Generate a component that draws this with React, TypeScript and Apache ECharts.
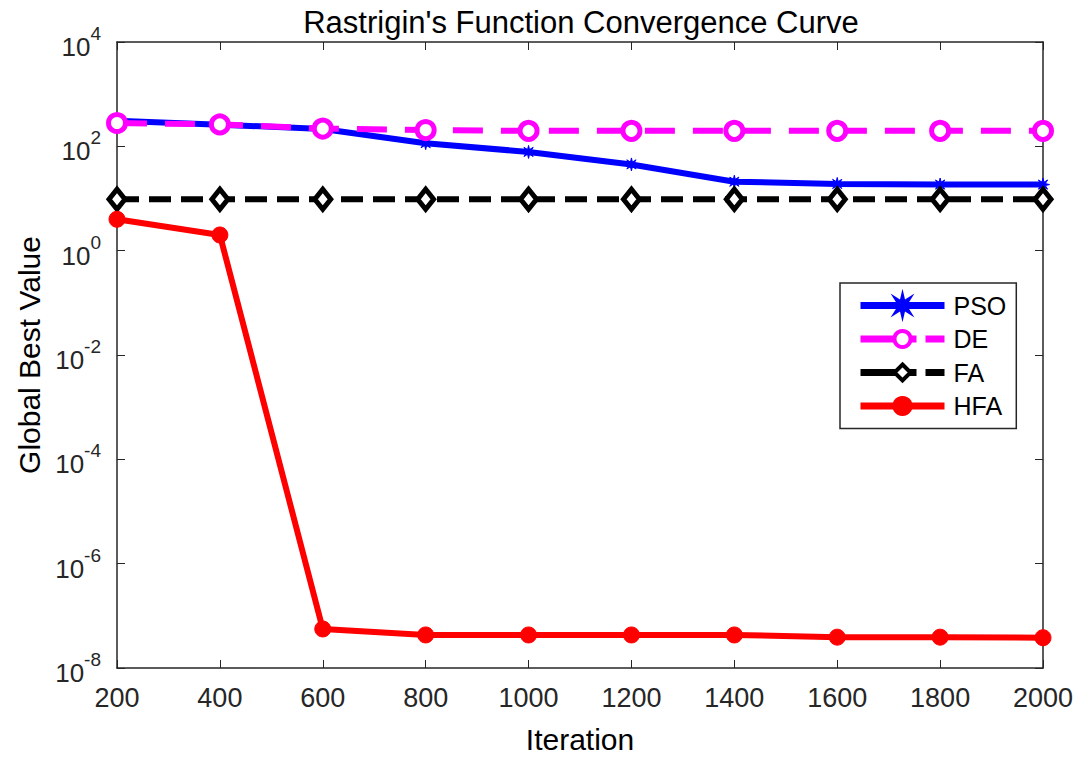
import React, { useEffect, useRef } from "react";
import * as echarts from "echarts";

const iterations = [200, 400, 600, 800, 1000, 1200, 1400, 1600, 1800, 2000];
const psoValues = [310, 260, 215, 115, 78, 45, 21, 19, 18.5, 18.5];
const deValues = [280, 263, 219, 205, 198, 198, 198, 198, 198, 198];
const faValues = [9.7, 9.7, 9.7, 9.7, 9.7, 9.7, 9.7, 9.7, 9.7, 9.7];
const hfaValues = [4.0, 2.0, 5.6e-8, 4.3e-8, 4.3e-8, 4.3e-8, 4.3e-8, 3.9e-8, 3.9e-8, 3.8e-8];
const xTicks = { min: 200, max: 2000, step: 200 };
const yExponents = { min: -8, max: 4, step: 2 };

const FONT = "'Liberation Sans', Arial, Helvetica, sans-serif";
const AX = "#262626";

const starPath =
  "path://M0,-10 L1.5,-3.6 L7.1,-7.1 L3.6,-1.5 L10,0 L3.6,1.5 L7.1,7.1 L1.5,3.6 L0,10 L-1.5,3.6 L-7.1,7.1 L-3.6,1.5 L-10,0 L-3.6,-1.5 L-7.1,-7.1 L-1.5,-3.6 Z";

function pairs(vals: number[]) {
  return iterations.map((x, i) => [x, vals[i]]);
}

export default function App() {
  const ref = useRef<HTMLDivElement>(null);
  useEffect(() => {
    if (!ref.current) return;
    const chart = echarts.init(ref.current, null, { renderer: "svg" });
    const supLabel = (v: number) => {
      const e = Math.round(Math.log10(v));
      return `{b|10}{s|${e}}`;
    };
    chart.setOption({
      animation: false,
      backgroundColor: "#ffffff",
      title: {
        text: "Rastrigin's Function Convergence Curve",
        left: 576,
        textAlign: "center",
        top: 2,
        textStyle: { fontFamily: FONT, fontSize: 31, fontWeight: "normal", color: "#000" },
      },
      grid: { left: 117, right: 48, top: 42, bottom: 88, containLabel: false },
      legend: {
        orient: "vertical",
        left: 840,
        top: 283,
        padding: [10, 10, 10, 17],
        borderColor: "#262626",
        borderWidth: 1.5,
        backgroundColor: "#fff",
        itemWidth: 84,
        itemHeight: 20,
        itemGap: 8.5,
        lineStyle: { width: 7 },
        itemStyle: { borderWidth: 4 },
        textStyle: { fontFamily: FONT, fontSize: 25, lineHeight: 25, color: "#000", padding: [0, 0, 0, 4] },
        data: [
          { name: "PSO" },
          { name: "DE", lineStyle: { type: [56, 9, 30] } },
          { name: "FA", lineStyle: { type: [56, 9, 30] } },
          { name: "HFA" },
        ],
      },
      xAxis: [
        {
          type: "value",
          min: xTicks.min,
          max: xTicks.max,
          interval: xTicks.step,
          name: "Iteration",
          nameLocation: "middle",
          nameGap: 56,
          nameTextStyle: { fontFamily: FONT, fontSize: 30, color: "#000" },
          axisLine: { lineStyle: { color: AX, width: 1.5 } },
          axisTick: { inside: true, length: 8, lineStyle: { color: AX } },
          axisLabel: {
            fontFamily: FONT,
            fontSize: 27,
            color: AX,
            margin: 16,
            formatter: (v: number) => String(v),
          },
          splitLine: { show: false },
        },
        {
          type: "value",
          position: "top",
          min: xTicks.min,
          max: xTicks.max,
          interval: xTicks.step,
          axisLine: { show: true, lineStyle: { color: AX, width: 1.5 } },
          axisTick: { inside: true, length: 8, lineStyle: { color: AX } },
          axisLabel: { show: false },
          splitLine: { show: false },
        },
      ],
      yAxis: [
        {
          type: "log",
          logBase: 10,
          min: Math.pow(10, yExponents.min),
          max: Math.pow(10, yExponents.max),
          interval: yExponents.step,
          name: "Global Best Value",
          nameLocation: "middle",
          nameGap: 72,
          nameTextStyle: { fontFamily: FONT, fontSize: 30, color: "#000" },
          axisLine: { show: true, lineStyle: { color: AX, width: 1.5 } },
          axisTick: { inside: true, length: 8, lineStyle: { color: AX } },
          axisLabel: {
            margin: 16,
            formatter: supLabel,
            rich: {
              b: { fontFamily: FONT, fontSize: 26, color: AX, verticalAlign: "bottom", lineHeight: 30 },
              s: { fontFamily: FONT, fontSize: 19, color: AX, verticalAlign: "top", lineHeight: 36 },
            },
          },
          minorTick: { show: false },
          splitLine: { show: false },
        },
        {
          type: "log",
          logBase: 10,
          position: "right",
          min: Math.pow(10, yExponents.min),
          max: Math.pow(10, yExponents.max),
          interval: yExponents.step,
          axisLine: { show: true, lineStyle: { color: AX, width: 1.5 } },
          axisTick: { inside: true, length: 8, lineStyle: { color: AX } },
          axisLabel: { show: false },
          splitLine: { show: false },
        },
      ],
      series: [
        {
          name: "PSO",
          type: "line",
          data: pairs(psoValues),
          symbol: starPath,
          symbolSize: 13,
          lineStyle: { color: "#0000ff", width: 6 },
          itemStyle: { color: "#0000ff", borderColor: "#0000ff", borderWidth: 1 },
          z: 3,
        },
        {
          name: "DE",
          type: "line",
          data: pairs(deValues),
          symbol: "circle",
          symbolSize: 17,
          lineStyle: { color: "#ff00ff", width: 6, type: [30, 18] },
          itemStyle: { color: "#ffffff", borderColor: "#ff00ff", borderWidth: 5 },
          z: 4,
        },
        {
          name: "FA",
          type: "line",
          data: pairs(faValues),
          symbol: "diamond",
          symbolSize: [16, 20],
          lineStyle: { color: "#000000", width: 6, type: [22, 10] },
          itemStyle: { color: "#ffffff", borderColor: "#000000", borderWidth: 5 },
          z: 3,
        },
        {
          name: "HFA",
          type: "line",
          data: pairs(hfaValues),
          symbol: "circle",
          symbolSize: 16,
          lineStyle: { color: "#ff0000", width: 6 },
          itemStyle: { color: "#ff0000", borderColor: "#ff0000", borderWidth: 1 },
          z: 3,
        },
      ],
    });
    return () => chart.dispose();
  }, []);
  return <div ref={ref} style={{ width: 1091, height: 759, position: "absolute", left: 0, top: 0 }} />;
}
